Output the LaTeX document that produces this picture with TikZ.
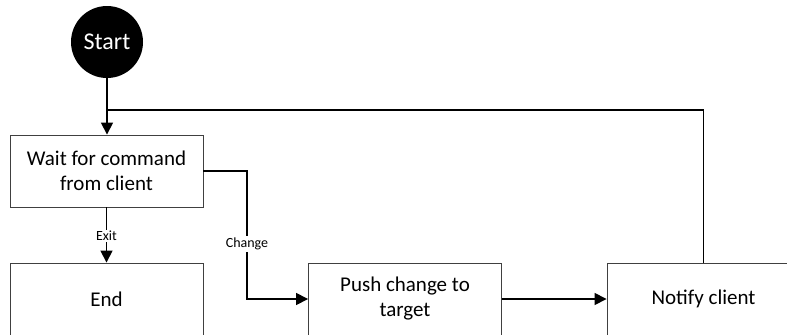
\documentclass[tikz,border=0pt]{standalone}
\usepackage{fontspec}
\setmainfont{Carlito}
\usetikzlibrary{arrows.meta}
\begin{document}
\begin{tikzpicture}[x=1pt,y=-1pt,
  box/.style={draw=black!75,line width=0.9pt,minimum width=193pt,minimum height=72pt,align=center,font=\fontsize{21}{25}\selectfont,inner sep=0pt},
  conn/.style={line width=1.6pt,draw=black},
  arr/.style={conn,-{Triangle[length=12pt,width=12pt]}},
  lbl/.style={fill=white,font=\fontsize{14}{16}\selectfont,inner sep=1.5pt}]
\useasboundingbox (0,0) rectangle (787,335);
\clip (0,0) rectangle (787,334);
\node[circle,fill=black,minimum size=72pt,inner sep=0pt,text=white,font=\fontsize{24}{28}\selectfont] (start) at (107,42) {Start};
\node[box] (wait) at (106.5,171) {Wait for command\\from client};
\node[box] (end) at (106.5,299) {End};
\node[box] (push) at (405,299) {Push change to\\target};
\node[box] (notify) at (703.5,299) {Notify client};
\coordinate (j) at (107,110);
\coordinate (c) at (247,171);
\draw[arr] (start) -- (wait.north -| start);
\draw[conn] (notify.north) |- (j);
\draw[arr] (wait.east) -- (c) |- (push.west) node[lbl,pos=0.285] {Change};
\draw[arr] (wait.south) -- (end.north) node[lbl,pos=0.52] {Exit};
\draw[arr] (push.east) -- (notify.west);
\end{tikzpicture}
\end{document}
